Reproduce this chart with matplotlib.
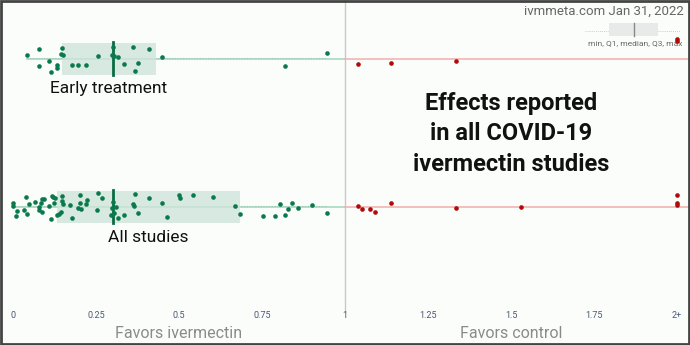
import numpy as np
import matplotlib
matplotlib.use("Agg")
import matplotlib.pyplot as plt
from matplotlib.patches import Rectangle

# effect estimates (relative risk), values above 2 are shown at "2+"
early_fav = [0.041, 0.078, 0.078, 0.107, 0.113, 0.132, 0.132, 0.147, 0.144, 0.152,
             0.177, 0.195, 0.219, 0.257, 0.300, 0.298, 0.304, 0.317, 0.333, 0.361,
             0.377, 0.367, 0.411, 0.450, 0.820, 0.945]
early_fav_jit = [-3.7, -9.3, 7.7, 2.7, 13, 6.3, 9.3, -10.7, -4.7, -3.7,
                 6.3, 6.3, 6, -2.3, -11.3, -3.7, -2.3, -1.3, 5.7, -11.3,
                 4.3, 12.3, -9.3, -2, 7.3, -5.3]
early_ctl = [1.040, 1.139, 1.334, 2.0, 2.0]
early_ctl_jit = [5, 4, 2.7, -20, -17.5]

all_fav = [0.001, 0.001, 0.011, 0.008, 0.039, 0.033, 0.042, 0.049, 0.067, 0.079,
           0.077, 0.086, 0.083, 0.087, 0.094, 0.109, 0.116, 0.121, 0.127, 0.124,
           0.114, 0.132, 0.138, 0.144, 0.148, 0.147, 0.151, 0.171, 0.177, 0.201,
           0.201, 0.197, 0.204, 0.220, 0.224, 0.252, 0.257, 0.269, 0.294, 0.300,
           0.298, 0.304, 0.310, 0.317, 0.333, 0.362, 0.365, 0.368, 0.377, 0.411,
           0.450, 0.463, 0.501, 0.503, 0.541, 0.601, 0.668, 0.685, 0.752, 0.790,
           0.820, 0.829, 0.804, 0.839, 0.858, 0.901, 0.945]
all_fav_jit = [-3.3, -0.3, 4, 9, -10, 3.7, 7, -2.3, -4.7, 0.7,
               3, 5.7, -4, -8, -7.3, -0.7, -11, -10, -8.7, -4,
               12, 8.7, 7, 5.7, -10.7, -6, -2.3, -1.3, 11.7, -11.3,
               -3.3, 1.7, 2.7, -2.3, -7, 3, -13.7, -9, 8.3, -4.7,
               1, 6, 0.7, 11.3, 8.3, -2.3, -0.7, -12.7, 6.7, -8.3,
               -3.3, 10.3, -11.3, -9, -11.3, -9.3, -1, 7, 9, 9,
               8.3, 2.7, -3, -3.7, 1, -1.3, 6.3]
all_ctl = [1.040, 1.052, 1.076, 1.089, 1.139, 1.334, 1.529, 2.0, 2.0, 2.0]
all_ctl_jit = [-1, 2.3, 2.3, 5.3, -3.3, 1.7, 0, -12, -3.3, -1.7]

# min, Q1, median, Q3 for each row
early_stats = [0.041, 0.148, 0.301, 0.430]
all_stats = [0.0, 0.134, 0.300, 0.684]

tick_vals = [0, 0.25, 0.5, 0.75, 1, 1.25, 1.5, 1.75, 2]
tick_labels = ["0", "0.25", "0.5", "0.75", "1", "1.25", "1.5", "1.75", "2+"]

GREEN = "#0a7a4c"
RED = "#b00a0a"
BG = "#fbfdfb"

plt.rcParams['font.family'] = ['Roboto', 'DejaVu Sans']

fig = plt.figure(figsize=(6.9, 3.45), dpi=100)
fig.patch.set_facecolor(BG)
ax = fig.add_axes([0, 0, 1, 1])
ax.set_facecolor(BG)
# x: 0 -> px 13, 2 -> px 677 ; y in pixel rows from top
ax.set_xlim(-13 / 332, 677 / 332)
ax.set_ylim(345, 0)
ax.axis("off")


def px(x):
    return (x - 13) / 332


def draw_row(yc, fav, fav_jit, ctl, ctl_jit, st, label, label_x, label_y):
    mn, q1, med, q3 = st
    ax.plot([mn, 1], [yc, yc], color="#a9d9c2", lw=1.2, zorder=1)
    ax.plot([1, 2.1], [yc, yc], color="#f0b4b4", lw=1.2, zorder=1)
    ax.plot([mn, max(fav)], [yc - 0.5, yc - 0.5], color="#9fc9b4", lw=0.8,
            ls=(0, (1, 1.5)), zorder=1)
    ax.add_patch(Rectangle((q1, yc - 16), q3 - q1, 32, facecolor="#cfe5da",
                           edgecolor="none", alpha=0.8, zorder=2))
    ax.plot([med, med], [yc - 16.5, yc + 16], color="#0b6b45", lw=2, zorder=3)
    ax.scatter(fav, yc + np.array(fav_jit), s=11, color=GREEN, zorder=4, lw=0)
    ax.scatter(np.minimum(ctl, 2.0), yc + np.array(ctl_jit), s=11, color=RED,
               zorder=4, lw=0)
    ax.text(label_x, label_y, label, ha="center", va="center", fontsize=12.5,
            color="#111111")


# reference line at no effect
ax.plot([1, 1], [0, 312], color="#c8c8c8", lw=1, zorder=0)

draw_row(58.5, early_fav, early_fav_jit, early_ctl, early_ctl_jit, early_stats,
         "Early treatment", px(109), 89)
draw_row(206.5, all_fav, all_fav_jit, all_ctl, all_ctl_jit, all_stats,
         "All studies", px(148), 237)

for v, t in zip(tick_vals, tick_labels):
    ax.text(v, 316, t, ha="center", va="center", fontsize=6.5, color="#4a5878")

ax.text(px(179), 333, "Favors ivermectin", ha="center", va="center",
        fontsize=11.5, color="#8a8a8a")
ax.text(px(511), 333, "Favors control", ha="center", va="center",
        fontsize=11.5, color="#8a8a8a")

ax.text(px(511), 134, "Effects reported\nin all COVID-19\nivermectin studies",
        ha="center", va="center", fontsize=17, fontweight="bold",
        linespacing=1.42, color="#111111")

ax.text(684 / 690, 1 - 11 / 345, "ivmmeta.com Jan 31, 2022", transform=fig.transFigure,
        ha="right", va="center", fontsize=9.5, color="#666666")

# small key for the box summary
ax.plot([px(585), px(680)], [31, 31], color="#bbbbbb", lw=0.6,
        ls=(0, (1, 1.5)), zorder=1)
ax.add_patch(Rectangle((px(609), 23), 49 / 332, 13, facecolor="#e8eaea",
                       edgecolor="none", zorder=1))
ax.plot([px(634)] * 2, [23, 36], color="#888888", lw=1, zorder=2)
ax.text(682 / 690, 1 - 43.5 / 345, "min, Q1, median, Q3, max", transform=fig.transFigure,
        ha="right", va="center", fontsize=6, color="#666666")

# frame around the figure
fig.patches.append(Rectangle((0.001, 0.002), 0.997, 0.995, transform=fig.transFigure,
                             fill=False, edgecolor="#444444", lw=2))

fig.savefig("out.png", dpi=100, facecolor=BG)
